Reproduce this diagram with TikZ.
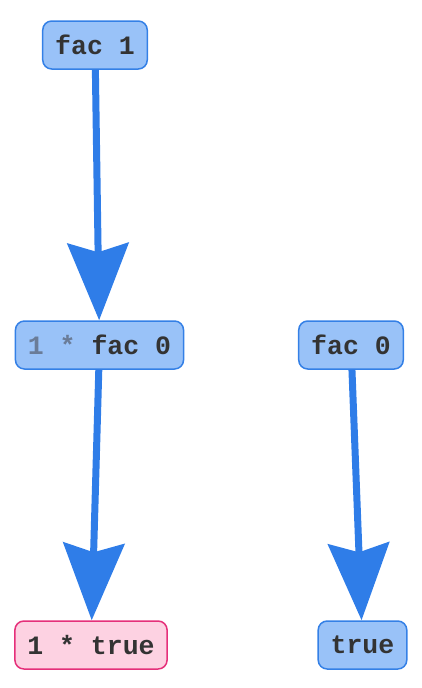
\documentclass[tikz,border=0pt]{standalone}
\usepackage{fontspec}
\setmonofont{Liberation Mono}
\usepackage{tikz}
\usetikzlibrary{positioning,arrows.meta}
\definecolor{termfill}{HTML}{99C2F8}
\definecolor{termline}{HTML}{3480E6}
\definecolor{redexfill}{HTML}{FDD2E2}
\definecolor{redexline}{HTML}{E5307A}
\definecolor{stepblue}{HTML}{2F7DE8}
\definecolor{termtext}{HTML}{333333}
\definecolor{ctxtext}{HTML}{6A7C98}

\begin{document}
\begin{tikzpicture}[
    x=1pt, y=-1pt,
    term/.style={draw=termline, line width=1.5pt, rectangle, rounded corners=9pt, fill=termfill, minimum height=48pt, inner xsep=12.5pt, text=termtext, font=\ttfamily\bfseries\fontsize{26.5}{30}\selectfont},
    redex/.style={term, draw=redexline, fill=redexfill},
    reduce/.style={-{Stealth[length=77pt, width=61pt, inset=9pt]}, line width=7pt, stepblue}
]
\useasboundingbox (0,0) rectangle (422,688);
\node[term] (fac1) at (95,45) {fac 1};
\node[term] (mulfac0) at (99.5,345) {\textcolor{ctxtext}{1 *} fac 0};
\node[term] (fac0) at (351,345) {fac 0};
\node[redex] (multrue) at (91,645) {1 * true};
\node[term] (true) at (362.5,645) {true};

\draw[reduce] (fac1) -- (mulfac0);
\draw[reduce] (mulfac0) -- (multrue);
\draw[reduce] (fac0) -- (true);
\end{tikzpicture}
\end{document}
